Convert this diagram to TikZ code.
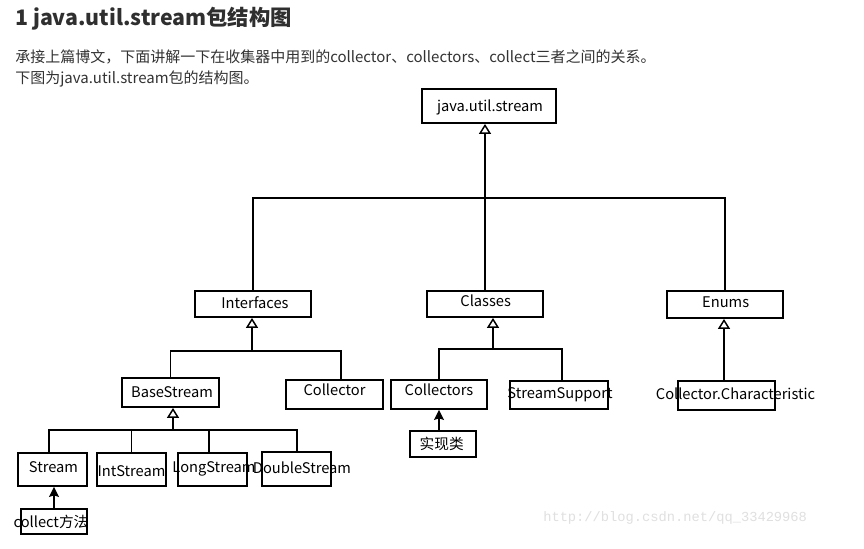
\documentclass[tikz,border=0pt]{standalone}
\usepackage{fontspec}
\setmainfont{Noto Sans CJK SC}
\newfontfamily\wmfont{Liberation Mono}
\usetikzlibrary{arrows.meta}
\definecolor{txtcol}{HTML}{333333}
\definecolor{titlecol}{HTML}{2F2F2F}
\definecolor{wmcol}{HTML}{E0E0E0}
\newdimen\pxd \pxd=0.75pt
\newcommand{\lbl}[3]{\makebox[0pt]{\hspace*{#1\pxd}\hspace*{#1\pxd}\raisebox{-#2\pxd}{#3}}}
\begin{document}
\begin{tikzpicture}[x=0.75pt,y=-0.75pt,
  box/.style={draw=black, line width=1.4pt, inner sep=0pt, fill=white,
    font=\fontsize{11}{13}\selectfont, text height=0.88em, text depth=0pt},
  bx/.style n args={2}{box, minimum width=#1*0.75pt, minimum height=#2*0.75pt},
  conn/.style={draw=black, line width=1.1pt},
  hollow/.style={-{Triangle[open, fill=white, length=7.5pt, width=9pt]}},
  filled/.style={-{Stealth[length=7.5pt, width=7.5pt, inset=1.2pt]}},
  bodytext/.style={anchor=base west, inner sep=0pt, text=txtcol, font=\fontsize{11.25}{13}\selectfont}]
\useasboundingbox (0,0) rectangle (864,549);
\fill[white] (0,0) rectangle (864,549);

% texts
\node[anchor=base west, inner sep=0pt, text=titlecol, font=\fontsize{16}{18}\selectfont\bfseries] (title) at (15,26) {1 java.util.stream包结构图};
\node[bodytext] (line1) at (15,62.7) {承接上篇博文，下面讲解一下在收集器中用到的collector、collectors、collect三者之间的关系。};
\node[bodytext] (line2) at (15,83.7) {下图为java.util.stream包的结构图。};

% boxes
\node[bx={134}{34}] (jus) at (489,106) {\lbl{1}{0}{java.util.stream}};
\node[bx={116}{26}] (interfaces) at (253,304) {\lbl{2}{-1}{Interfaces}};
\node[bx={116}{26}] (classes) at (485,304) {\lbl{0.7}{-3}{Classes}};
\node[bx={116}{27}] (enums) at (725,304.5) {\lbl{0.7}{-2.5}{Enums}};
\node[bx={97}{29}] (basestream) at (170.5,392.5) {\lbl{1.5}{-0.5}{BaseStream}};
\node[bx={97}{29}] (collector) at (334.5,394.5) {\lbl{0}{-4.5}{Collector}};
\node[bx={96}{29}] (collectors) at (439,394.5) {\lbl{0}{-4.5}{Collectors}};
\node[bx={98}{28}] (streamsupport) at (559,395) {\lbl{1}{-2.3}{StreamSupport}};
\node[bx={97}{29}] (cchar) at (726.5,395.5) {\lbl{9}{-2}{Collector.Characteristic}};
\node[bx={69}{33}] (stream) at (52.5,469.5) {\lbl{1}{-3}{Stream}};
\node[bx={69}{33}] (intstream) at (131.5,469.5) {\lbl{0}{1}{IntStream}};
\node[bx={69}{33}] (longstream) at (212.5,469.5) {\lbl{1.5}{-3}{LongStream}};
\node[bx={69}{34}] (doublestream) at (296.5,469) {\lbl{5.5}{-1.3}{DoubleStream}};
\node[bx={66}{26}] (impl) at (443,444) {\lbl{-1.3}{0}{实现类}};
\node[bx={66}{25}] (collectm) at (54,521.5) {\lbl{-3}{0}{collect方法}};

% level 1
\coordinate (b1) at (0,198);
\draw[conn, hollow] (classes.north) -- (classes.north |- jus.south);
\draw[conn] (interfaces.north) -- (interfaces.north |- b1) -- (enums.north |- b1) -- (enums.north);

% interfaces
\coordinate (b2) at (252,351);
\coordinate (b2r) at (341,351);
\draw[conn, hollow] (b2) -- (b2 |- interfaces.south);
\draw[conn] (basestream.north) |- (b2r) -- (b2r |- collector.north);

% basestream
\coordinate (b3) at (173,430);
\coordinate (b3l) at (49,430);
\coordinate (b3r) at (297,430);
\draw[conn, hollow] (b3) -- (b3 |- basestream.south);
\draw[conn] (b3l |- stream.north) -- (b3l) -- (b3r) -- (b3r |- doublestream.north);
\draw[conn] (intstream.north |- b3) -- (intstream.north);
\coordinate (b3m) at (209,430);
\draw[conn] (b3m) -- (b3m |- longstream.north);

% classes
\coordinate (b4) at (493,349);
\draw[conn, hollow] (b4) -- (b4 |- classes.south);
\draw[conn] (collectors.north) |- (b4) -| ([xshift=2.2pt]streamsupport.north);

% enums
\draw[conn, hollow] ([xshift=-0.75pt]enums.south |- cchar.north) -- ([xshift=-0.75pt]enums.south);

% implementations
\draw[conn, filled] (collectm.north) -- (collectm.north |- stream.south);
\draw[conn, filled] (collectors.south |- impl.north) -- (collectors.south);

% watermark
\node[anchor=west, inner sep=0pt, text=wmcol, font=\wmfont\fontsize{10.3}{12}\selectfont] (wm) at (543,518) {http://blog.csdn.net/qq\_33429968};
\end{tikzpicture}
\end{document}
